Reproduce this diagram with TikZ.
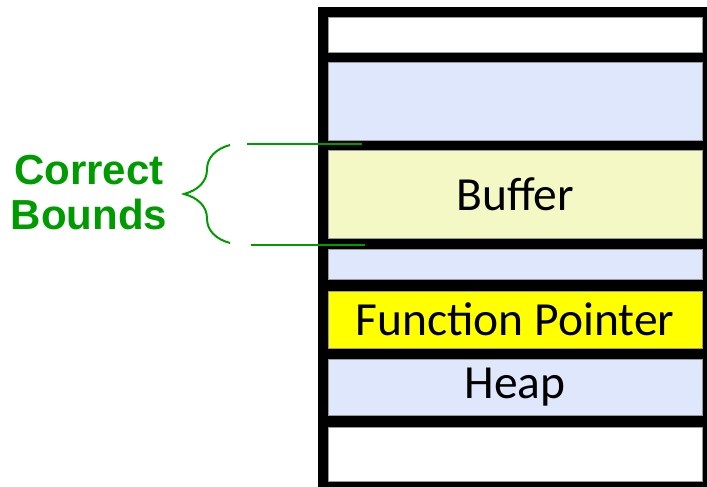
\documentclass[tikz,border=0pt]{standalone}
\usepackage{fontspec}
\setmainfont{Carlito}
\newfontfamily\labelfont{Liberation Sans}
\usetikzlibrary{positioning,decorations.pathreplacing}
\definecolor{memblue}{RGB}{222,231,252}
\definecolor{bufyellow}{RGB}{244,248,196}
\definecolor{fpyellow}{RGB}{255,255,0}
\definecolor{boundgreen}{RGB}{0,155,0}

\begin{document}
\begin{tikzpicture}[x=1pt,y=-1pt,% every length in pixels of the reference
				every node/.style={
					align=center,		% so "\\" breaks the line
					inner sep=0pt,
					outer sep=0pt
				},
				cell/.style={
					draw=gray!80,line width=0.8pt,
					minimum width=374pt,
					font=\fontsize{47.5}{47.5}\selectfont
				},
				bound/.style={draw=boundgreen,line width=2pt}
			]
			\useasboundingbox (0,0) rectangle (707,487);
			% the black memory frame
			\fill[black] (318,7) rectangle (707,487);
			\node[cell,fill=white,minimum height=35pt](top) at (515,34.5){};
			\node[cell,fill=memblue,minimum height=78pt](mem1)[below=10pt of top]{};
			\node[cell,fill=bufyellow,minimum height=88pt](buf)[below=10pt of mem1]{Buffer};
			\node[cell,fill=memblue,minimum height=30pt](mem2)[below=11pt of buf]{};
			\node[cell,fill=fpyellow,minimum height=57pt](fp)[below=12pt of mem2]{Function Pointer};
			\node[cell,fill=memblue,minimum height=56pt](heap)[below=11pt of fp]{Heap};
			\node[cell,fill=white,minimum height=54pt](bot)[below=12pt of heap]{};
			% bounds of the buffer
			\coordinate (t1) at (247,144);
			\coordinate (t2) at (362,144);
			\coordinate (b1) at (251,245);
			\coordinate (b2) at (365,245);
			\draw[bound] (t1) -- (t2);
			\draw[bound] (b1) -- (b2);
			\coordinate (brtop) at (230,145);
			\coordinate (brbot) at (230,243);
			\draw[bound,decorate,decoration={brace,amplitude=46pt}] (brbot) -- (brtop);
			\node[text=boundgreen,font=\labelfont\fontsize{42}{45}\selectfont\bfseries](lbl) at (89,193){Correct\\Bounds};
		\end{tikzpicture}
\end{document}
